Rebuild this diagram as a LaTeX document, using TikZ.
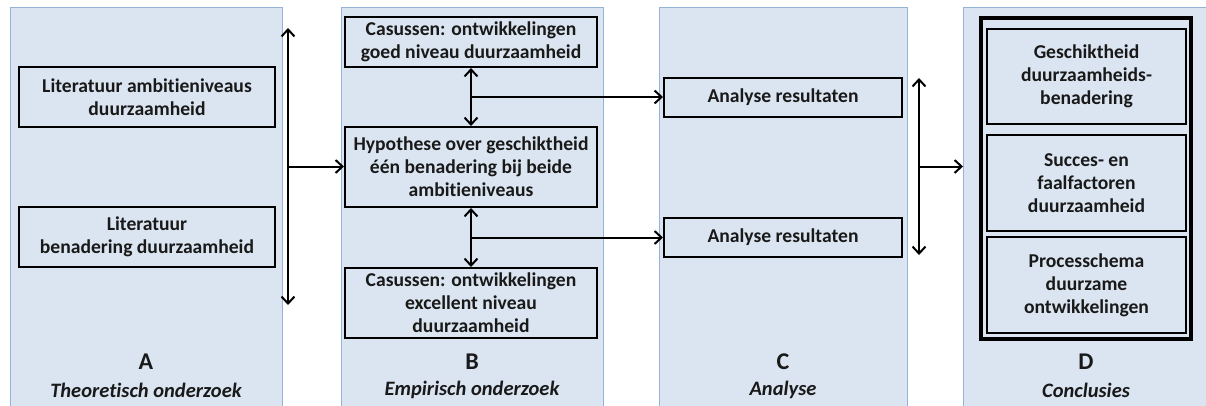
\documentclass[tikz,border=0pt]{standalone}
\usepackage{fontspec}
\setmainfont{Carlito}[Ligatures=NoCommon]
\usetikzlibrary{arrows.meta,calc}
\definecolor{panelfill}{RGB}{219,229,241}
\definecolor{paneledge}{RGB}{149,179,215}
\newcommand{\boxfont}{\fontsize{19.6}{23}\selectfont\bfseries}
\newcommand{\letterfont}{\fontsize{24}{28}\selectfont\bfseries}
\newcommand{\phasefont}{\fontsize{20.5}{25}\selectfont\bfseries\itshape}
\begin{document}
\begin{tikzpicture}[x=1pt,y=-1pt,
  panel/.style={draw=paneledge, line width=1.2pt, fill=panelfill, anchor=north west,
    inner sep=0pt, minimum height=420pt},
  box/.style={draw=black, line width=2pt, align=center, inner sep=2pt, font=\boxfont,
    text=black!90},
  dbox/.style={box, line width=2.6pt, minimum width=199pt, minimum height=96pt},
  tip/.tip={Straight Barb[length=7pt,width=13pt,line width=2pt]},
  conn/.style={line width=2pt, -tip},
  dconn/.style={line width=2pt, tip-tip},
  letter/.style={font=\letterfont, text=black!90},
  phase/.style={font=\phasefont, text=black!90}]
\useasboundingbox (0,0) rectangle (1206,405);
\fill[white] (0,0) rectangle (1206,405);

% four phase columns
\node[panel, minimum width=272pt] (PA) at (10,7) {};
\node[panel, minimum width=262pt] (PB) at (341,7) {};
\node[panel, minimum width=248pt] (PC) at (659,7) {};
\node[panel, minimum width=260pt] (PD) at (963,7) {};

% A: theoretical research
\node[box, minimum width=256pt, minimum height=60pt] (A1) at (147,97)
  {Literatuur ambitieniveaus\\duurzaamheid};
\node[box, minimum width=256pt, minimum height=60pt] (A2) at (147,237)
  {Literatuur\\benadering duurzaamheid};

% B: empirical research
\node[box, minimum width=252pt, minimum height=50pt] (B1) at (471,42)
  {Casussen: ontwikkelingen\\goed niveau duurzaamheid};
\node[box, minimum width=252pt, minimum height=80pt] (H) at (471,167)
  {Hypothese over geschiktheid\\één benadering bij beide\\ambitieniveaus};
\node[box, minimum width=252pt, minimum height=70pt] (B3) at (471,303)
  {Casussen: ontwikkelingen\\excellent niveau\\duurzaamheid};

% C: analysis
\node[box, minimum width=238pt, minimum height=39pt] (C1) at (783,97) {Analyse resultaten};
\node[box, minimum width=238pt, minimum height=39pt] (C2) at (783,237) {Analyse resultaten};

% D: conclusions inside a thick-thin frame
\node[draw, line width=3pt, minimum width=211pt, minimum height=322pt] (DF) at (1086,178.5) {};
\draw[line width=1.1pt] ([shift={(3.6,3.6)}]DF.north west) rectangle ([shift={(-3.6,-3.6)}]DF.south east);
\node[dbox, minimum height=95pt] (D1) at (1086.5,76.5)
  {Geschiktheid\\duurzaamheids-\\benadering};
\node[dbox] (D2) at (1086.5,183) {Succes- en\\faalfactoren\\duurzaamheid};
\node[dbox] (D3) at (1086.5,285) {Processchema\\duurzame\\ontwikkelingen};

% column captions
\node[letter] (LA) at (146,362) {A};
\node[phase] (TA) at (146,390) {Theoretisch onderzoek};
\node[letter] (LB) at (472,362) {B};
\node[phase] (TB) at (472,390) {Empirisch onderzoek};
\node[letter] (LC) at (783,362) {C};
\node[phase] (TC) at (783,390) {Analyse};
\node[letter] (LD) at (1086,362) {D};
\node[phase] (TD) at (1086,390) {Conclusies};

% A -> B
\coordinate (aT) at (288,28);
\coordinate (aB) at (288,305);
\coordinate (aM) at ($(aT)!0.5!(aB)$);
\draw[dconn] (aT) -- (aB);
\draw[conn] (aM) -- (aM -| H.west);

% B -> C
\coordinate (b1) at ($(B1.south)!0.5!(H.north)$);
\coordinate (b2) at ($(H.south)!0.5!(B3.north)$);
\draw[dconn] (B1.south) -- (H.north);
\draw[dconn] (H.south) -- (B3.north);
\draw[conn] (b1) -- (b1 -| C1.west);
\draw[conn] (b2) -- (b2 -| C2.west);

% C -> D
\coordinate (cT) at (919,78);
\coordinate (cB) at (919,255);
\coordinate (cM) at ($(cT)!0.5!(cB)$);
\draw[dconn] (cT) -- (cB);
\draw[conn] (cM) -- (cM -| PD.west);
\end{tikzpicture}
\end{document}
